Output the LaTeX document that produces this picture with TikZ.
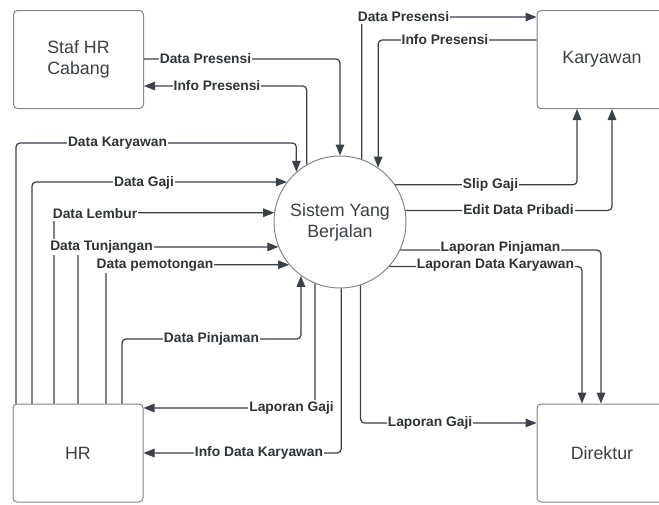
\documentclass[tikz,border=0pt]{standalone}
\usepackage{fontspec}
\setmainfont{Liberation Sans}
\usetikzlibrary{arrows.meta}
\definecolor{ln}{HTML}{3A414A}
\definecolor{bx}{HTML}{80858C}
\definecolor{tx}{HTML}{3A3F48}
\definecolor{lt}{HTML}{2F343B}
\begin{document}
\begin{tikzpicture}[x=1pt,y=-1pt,
  ent/.style={draw=bx, line width=1pt, rounded corners=4pt, minimum width=130pt, minimum height=98pt, text=tx, font=\fontsize{17.8}{21}\selectfont, align=center, inner sep=0pt},
  proc/.style={circle, draw=bx, line width=1pt, minimum size=132pt, text=tx, font=\fontsize{17.8}{21}\selectfont, align=center, inner sep=0pt},
  flow/.style={draw=ln, line width=1.25pt, rounded corners=4pt, -{Triangle[length=11pt,width=8.5pt]}},
  lbl/.style={fill=white, text=lt, font=\bfseries\fontsize{13.8}{16}\selectfont, inner xsep=1pt, inner ysep=1.5pt}
]
\useasboundingbox (0,0) rectangle (659,504);
\clip (0,0) rectangle (659,504);

% entities
\node[ent] (staf) at (78.5,59.5) {Staf HR\\Cabang};
\node[ent] (kar) at (602,59.5) {Karyawan};
\node[ent] (hr) at (78,453) {HR};
\node[ent] (dir) at (602,453) {Direktur};
\node[proc] (sys) at (340,222) {Sistem Yang\\Berjalan};

% Staf HR Cabang
\draw[flow] (staf.east |- 0,59) -| (sys.90);
\draw[flow] (sys.120) |- (staf.east |- 0,86);

% Karyawan
\draw[flow] (sys.71.5) |- (kar.west |- 0,17);
\draw[flow] (kar.west |- 0,40) -| (sys.55.9);
\draw[flow] (sys.34.1) -| (kar.south -| 577,0);
\draw[flow] (sys.10.5) -| (kar.south -| 612,0);

% Direktur
\draw[flow] (sys.335.9) -| (dir.north -| 601,0);
\draw[flow] (sys.318.2) -| (dir.north -| 582,0);
\draw[flow] (sys.288.5) |- (dir.west |- 0,423);

% HR
\draw[flow] (hr.north -| 16,0) -- (16,143) -| (sys.131.8);
\draw[flow] (hr.north -| 32,0) |- (sys.143.8);
\draw[flow] (hr.north -| 54,0) |- (sys.172.2);
\draw[flow] (hr.north -| 78,0) |- (sys.202.3);
\draw[flow] (hr.north -| 106,0) |- (sys.220.7);
\draw[flow] (hr.north -| 122,0) -- (122,339) -| (sys.234.8);
\draw[flow] (sys.248.7) |- (hr.east |- 0,408);
\draw[flow] (sys.271) |- (hr.east);

% labels
\node[lbl] (l1) at (205.5,59) {Data Presensi};
\node[lbl] (l2) at (217,86) {Info Presensi};
\node[lbl] (l3) at (117.5,143) {Data Karyawan};
\node[lbl] (l4) at (144,183) {Data Gaji};
\node[lbl] (l5) at (95,214) {Data Lembur};
\node[lbl] (l6) at (101.5,247) {Data Tunjangan};
\node[lbl] (l7) at (155,265) {Data pemotongan};
\node[lbl] (l8) at (211.5,339) {Data Pinjaman};
\node[lbl] (l9) at (291.5,408) {Laporan Gaji};
\node[lbl] (l10) at (259,453) {Info Data Karyawan};
\node[lbl] (l11) at (430,423) {Laporan Gaji};
\node[lbl] (l12) at (403.5,17) {Data Presensi};
\node[lbl] (l13) at (445,40) {Info Presensi};
\node[lbl] (l14) at (490.5,185) {Slip Gaji};
\node[lbl] (l15) at (518.5,210) {Edit Data Pribadi};
\node[lbl] (l16) at (500.5,248) {Laporan Pinjaman};
\node[lbl] (l17) at (495.5,265) {Laporan Data Karyawan};
\end{tikzpicture}
\end{document}
